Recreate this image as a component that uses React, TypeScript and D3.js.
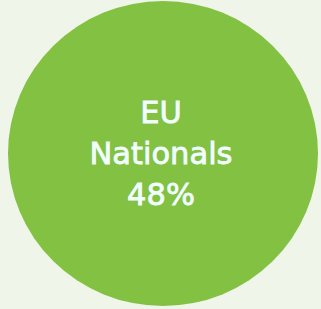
import React, { useEffect, useRef } from 'react';
import * as d3 from 'd3';

const categories = ['EU Nationals'];
const values = [48];
const colors = ['#83c143'];

const W = 321;
const H = 309;

const App = () => {
  const svgRef = useRef<SVGSVGElement | null>(null);

  useEffect(() => {
    const svg = d3.select(svgRef.current);
    svg.selectAll('*').remove();

    svg.append('rect').attr('width', W).attr('height', H).attr('fill', '#eff5e9');

    // single bubble, sized to fill the frame
    const x = d3.scaleBand().domain(categories).range([8, 318]);
    const r = d3.scaleLinear().domain([0, 1]).range([152.5, 152.5]);

    const g = svg
      .selectAll('g.bubble')
      .data(categories)
      .enter()
      .append('g')
      .attr('class', 'bubble')
      .attr('transform', (d) => `translate(${x(d)! + x.bandwidth() / 2},153.5)`);

    g.append('ellipse')
      .attr('rx', x.bandwidth() / 2)
      .attr('ry', (d, i) => r(i))
      .attr('fill', (d, i) => colors[i]);

    const text = g
      .append('text')
      .attr('text-anchor', 'middle')
      .attr('font-family', 'DejaVu Sans, sans-serif')
      .attr('font-size', 30.5)
      .attr('fill', '#f2ffff')
      .attr('stroke', '#f2ffff')
      .attr('stroke-width', 0.8);

    const lines = (d: string, i: number) => [...d.split(' '), `${values[i]}%`];
    text
      .selectAll('tspan')
      .data((d, i) => lines(d, i))
      .enter()
      .append('tspan')
      .attr('x', -2)
      .attr('y', (d, i) => -31 + i * 41)
      .text((d) => d);
  }, []);

  return (
    <svg
      ref={svgRef}
      width={W}
      height={H}
      style={{ position: 'absolute', left: 0, top: 0 }}
    ></svg>
  );
};

export default App;
